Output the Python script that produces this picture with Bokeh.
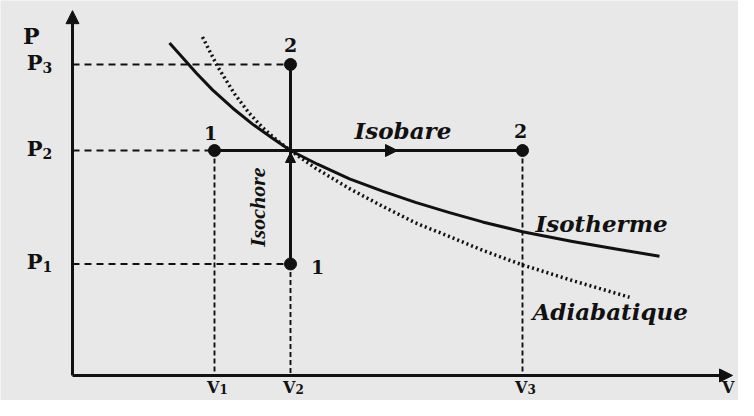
from math import pi
from bokeh.plotting import figure
from bokeh.models import Range1d, Arrow, NormalHead
from bokeh.core.properties import value
from bokeh.embed import file_html
from bokeh.resources import INLINE

# ---- values (V and P in arbitrary units) ----
V1, V2, V3 = 1.42, 2.18, 4.50
P1, P2, P3 = 1.14, 2.30, 3.18
V_AXIS_END = 6.60
P_AXIS_END = 3.73

# Isotherme (solid) curve points
iso_V = [0.97, 1.10, 1.24, 1.40, 1.60, 1.80, 2.00, 2.18, 2.45, 2.77, 3.10, 3.43, 3.77, 4.10, 4.50, 5.00, 5.45, 5.87]
iso_P = [3.40, 3.25, 3.09, 2.92, 2.735, 2.57, 2.425, 2.30, 2.16, 2.01, 1.885, 1.77, 1.665, 1.57, 1.47, 1.37, 1.29, 1.22]

# Adiabatique (dotted) curve points
adi_V = [1.30, 1.45, 1.62, 1.76, 1.90, 2.05, 2.18, 2.43, 2.77, 3.10, 3.43, 3.77, 4.10, 4.50, 5.00, 5.57]
adi_P = [3.46, 3.16, 2.88, 2.69, 2.535, 2.40, 2.30, 2.12, 1.91, 1.73, 1.56, 1.42, 1.28, 1.13, 0.97, 0.80]

# tick labels
p_tick_vals = [P3, P2, P1]
p_tick_subs = ["3", "2", "1"]
v_tick_vals = [V1, V2, V3]
v_tick_subs = ["1", "2", "3"]

# state points and their labels
pt_V = [V2, V1, V2, V3]
pt_P = [P3, P2, P1, P2]
pt_labels = ["2", "1", "1", "2"]

INK = "#111111"
BG = "#e8e8e8"
SERIF = value("DejaVu Serif")

p = figure(width=738, height=400, output_backend="svg", toolbar_location=None,
           x_range=Range1d(-0.72, 6.66), y_range=Range1d(-0.256, 3.834),
           min_border=0, x_axis_type=None, y_axis_type=None)
p.grid.visible = False
p.background_fill_color = BG
p.border_fill_color = BG
p.outline_line_color = None

# dashed guide lines
p.segment(x0=[0, 0, 0], y0=[P3, P2, P1], x1=[V2, V1, V2], y1=[P3, P2, P1],
          line_color=INK, line_width=1.9, line_dash="7 5")
p.segment(x0=[V1, V2, V3], y0=[P2, P1, P2], x1=[V1, V2, V3], y1=[0, 0, 0],
          line_color=INK, line_width=1.9, line_dash="5 3")

# curves
p.line(iso_V, iso_P, line_color=INK, line_width=3, line_join="round")
p.line(adi_V, adi_P, line_color=INK, line_width=3.5, line_dash="2 3")

# isochore and isobare transformations
p.segment(x0=[V2, V1], y0=[P1, P2], x1=[V2, V3], y1=[P3, P2], line_color=INK, line_width=3)

# axes with arrows
for xs, ys, xe, ye in [(0, 0, 0, P_AXIS_END), (0, 0, V_AXIS_END, 0)]:
    p.add_layout(Arrow(end=NormalHead(size=13, fill_color=INK, line_color=INK),
                       x_start=xs, y_start=ys, x_end=xe, y_end=ye,
                       line_color=INK, line_width=3))

# direction arrows on the transformations
p.add_layout(Arrow(end=NormalHead(size=12, fill_color=INK, line_color=INK),
                   x_start=V2 + 0.6, y_start=P2, x_end=V2 + 1.07, y_end=P2,
                   line_color=INK, line_width=3))
p.add_layout(Arrow(end=NormalHead(size=10, fill_color=INK, line_color=INK),
                   x_start=V2, y_start=P2 - 0.3, x_end=V2, y_end=P2 - 0.02,
                   line_color=INK, line_width=3))

# state points
p.scatter(pt_V, pt_P, size=12, fill_color=INK, line_color=INK)

# point labels
p.text(x=pt_V, y=pt_P, text=pt_labels,
       x_offset=[0, -4, 27, -2], y_offset=[-19, -18, 3, -20],
       text_font=SERIF, text_font_style="bold", text_font_size="19px",
       text_color=INK, text_align="center", text_baseline="middle")

# P tick labels with subscripts
p.text(x=[0] * 3, y=p_tick_vals, text=["P"] * 3, x_offset=-30, y_offset=-2,
       text_font=SERIF, text_font_style="bold", text_font_size="21px",
       text_color=INK, text_align="right", text_baseline="middle")
p.text(x=[0] * 3, y=p_tick_vals, text=p_tick_subs, x_offset=-30, y_offset=3,
       text_font=SERIF, text_font_style="bold", text_font_size="14px",
       text_color=INK, text_align="left", text_baseline="middle")

# V tick labels with subscripts
p.text(x=v_tick_vals, y=[0] * 3, text=["V"] * 3, x_offset=5, y_offset=3,
       text_font=SERIF, text_font_style="bold", text_font_size="16px",
       text_color=INK, text_align="right", text_baseline="top")
p.text(x=v_tick_vals, y=[0] * 3, text=v_tick_subs, x_offset=5, y_offset=9,
       text_font=SERIF, text_font_style="bold", text_font_size="12px",
       text_color=INK, text_align="left", text_baseline="top")

# axis names
p.text(x=[0], y=[P_AXIS_END], text=["P"], x_offset=-33, y_offset=25,
       text_font=SERIF, text_font_style="bold", text_font_size="22px",
       text_color=INK, text_align="right", text_baseline="middle")
p.text(x=[V_AXIS_END], y=[0], text=["V"], x_offset=2, y_offset=3,
       text_font=SERIF, text_font_style="bold", text_font_size="16px",
       text_color=INK, text_align="right", text_baseline="top")

# curve / process names
p.text(x=[2.82, 4.63, 4.60], y=[P2 + 0.20, 1.55, 0.65],
       text=["Isobare", "Isotherme", "Adiabatique"],
       text_font=SERIF, text_font_style="bold italic", text_font_size="23px",
       text_color=INK, text_align="left", text_baseline="middle")
p.text(x=[1.85], y=[1.72], text=["Isochore"], angle=pi / 2,
       text_font=value("Liberation Serif"), text_font_style="bold italic",
       text_font_size="22px", text_color=INK, text_align="center", text_baseline="middle")

open("out.html", "w").write(file_html(p, INLINE))
